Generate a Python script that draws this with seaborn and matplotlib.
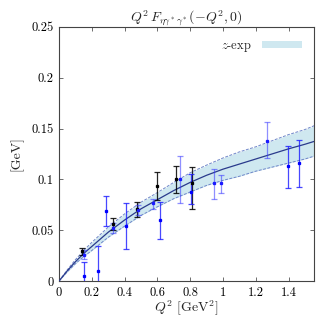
import numpy as np
import pandas as pd
import matplotlib
matplotlib.use("Agg")
import matplotlib.pyplot as plt
import seaborn as sns

# ---- data ----
curve_q2 = [0, 0.05, 0.1, 0.15, 0.2, 0.3, 0.4, 0.5, 0.6, 0.7, 0.8, 0.9, 1.0, 1.1, 1.2, 1.3, 1.4, 1.5, 1.56]
curve_mid = [0, 0.010, 0.019, 0.027, 0.034, 0.048, 0.060, 0.071, 0.080, 0.089, 0.097, 0.104, 0.110, 0.115, 0.120, 0.125, 0.130, 0.1345, 0.1375]
curve_lo = [0, 0.009, 0.017, 0.024, 0.030, 0.043, 0.054, 0.0645, 0.073, 0.081, 0.0875, 0.094, 0.099, 0.103, 0.108, 0.112, 0.116, 0.120, 0.123]
curve_hi = [0, 0.011, 0.021, 0.030, 0.038, 0.053, 0.066, 0.0775, 0.087, 0.097, 0.1065, 0.114, 0.121, 0.127, 0.132, 0.138, 0.144, 0.149, 0.153]

blue_q2 = [0.155, 0.24, 0.287, 0.41, 0.617, 0.806, 1.395, 1.466]
blue_val = [0.005, 0.010, 0.069, 0.054, 0.060, 0.088, 0.113, 0.116]
blue_elo = [0.014, 0.030, 0.015, 0.023, 0.019, 0.012, 0.022, 0.024]
blue_ehi = [0.014, 0.024, 0.015, 0.023, 0.018, 0.017, 0.020, 0.023]

light_q2 = [0.15, 0.33, 0.48, 0.57, 0.739, 0.945, 0.985, 1.27]
light_val = [0.026, 0.052, 0.070, 0.077, 0.100, 0.096, 0.096, 0.138]
light_elo = [0.004, 0.005, 0.005, 0.006, 0.023, 0.015, 0.009, 0.017]
light_ehi = [0.004, 0.005, 0.005, 0.004, 0.023, 0.014, 0.008, 0.018]

black_q2 = [0.14, 0.328, 0.475, 0.60, 0.713, 0.81]
black_val = [0.029, 0.056, 0.071, 0.093, 0.100, 0.096]
black_elo = [0.003, 0.006, 0.008, 0.013, 0.013, 0.025]
black_ehi = [0.003, 0.006, 0.007, 0.014, 0.013, 0.016]

xticks = [0, 0.2, 0.4, 0.6, 0.8, 1.0, 1.2, 1.4]
xticklabels = ["0", "0.2", "0.4", "0.6", "0.8", "1", "1.2", "1.4"]
yticks = [0, 0.05, 0.1, 0.15, 0.2, 0.25]
yticklabels = ["0", "0.05", "0.1", "0.15", "0.2", "0.25"]

# ---- style ----
sns.set_style("ticks")
plt.rcParams["font.family"] = ["cmr10", "DejaVu Serif"]
plt.rcParams["mathtext.fontset"] = "cm"
plt.rcParams["axes.formatter.use_mathtext"] = True

fig = plt.figure(figsize=(3.16, 3.2), dpi=100)
ax = fig.add_axes([0.187, 0.122, 0.807, 0.794])

curve = pd.DataFrame({"q2": curve_q2, "mid": curve_mid, "lo": curve_lo, "hi": curve_hi})
ax.fill_between(curve["q2"], curve["lo"], curve["hi"], color="#cfe8f0", lw=0, label="$z$-exp", zorder=1)
sns.lineplot(data=curve, x="q2", y="lo", ax=ax, color="#6f86c9", lw=0.7, ls=(0, (3, 1.5)), zorder=2)
sns.lineplot(data=curve, x="q2", y="hi", ax=ax, color="#6f86c9", lw=0.7, ls=(0, (3, 1.5)), zorder=2)
sns.lineplot(data=curve, x="q2", y="mid", ax=ax, color="#2a3a8c", lw=0.9, zorder=3)

ek = dict(fmt="s", ms=1.4, capsize=2.0, elinewidth=0.9, capthick=0.9, zorder=4)
ax.errorbar(black_q2, black_val, yerr=[black_elo, black_ehi], color="black", ecolor=(0, 0, 0, 0.85), **ek)
ax.errorbar(light_q2, light_val, yerr=[light_elo, light_ehi], color="#1a1aff", ecolor=(0.2, 0.2, 1.0, 0.55), **ek)
ax.errorbar(blue_q2, blue_val, yerr=[blue_elo, blue_ehi], color="#0000ff", ecolor=(0.1, 0.1, 1.0, 0.8), **ek)

ax.set_xlim(0, 1.556)
ax.set_ylim(0, 0.25)
ax.set_xticks(xticks)
ax.set_xticklabels(xticklabels)
ax.set_yticks(yticks)
ax.set_yticklabels(yticklabels)
ax.tick_params(direction="in", top=True, right=True, length=3, width=0.5, labelsize=9, colors="#333333", labelcolor="black", pad=4)
for s in ax.spines.values():
    s.set_linewidth(0.8)
    s.set_color("#444444")

ax.set_xlabel("$Q^2$ [GeV$^2$]", fontsize=10, labelpad=0)
ax.set_ylabel("[GeV]", fontsize=10, labelpad=6)
ax.set_title(r"$Q^2\, F_{\eta\gamma^*\gamma^*}(-Q^2,0)$", fontsize=10, pad=4)

handles, labels = ax.get_legend_handles_labels()
ax.legend([handles[0]], [labels[0]], loc="upper right", frameon=False, fontsize=9,
          handlelength=3.2, handleheight=0.5, borderaxespad=0.6, markerfirst=False)

fig.savefig("out.png", dpi=100)
